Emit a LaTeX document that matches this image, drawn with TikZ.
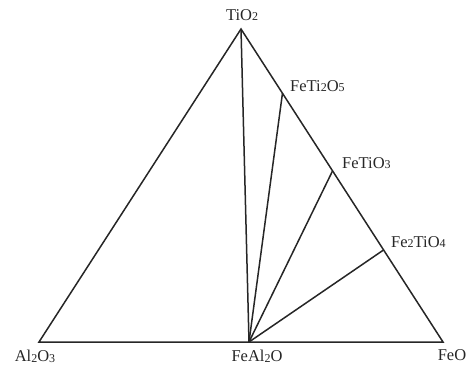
\documentclass[tikz,border=0pt]{standalone}
\usepackage{fontspec}
\setmainfont{Liberation Serif}
\newcommand{\sbs}[1]{\raisebox{-0.8pt}{\fontsize{12}{12}\selectfont #1}}
\begin{document}
\begin{tikzpicture}[x=1pt,y=-1pt,
  edge/.style={line width=1.5pt,black!85},
  lab/.style={font=\fontsize{16.5}{18}\selectfont,text=black!85,inner sep=0pt}]
\useasboundingbox (0,0) rectangle (468,367);
\coordinate (ti) at (241,29);
\coordinate (al) at (39,342);
\coordinate (fe) at (443,342);
\coordinate (fa) at (249,342);
\coordinate (p1) at (282.5,93);
\coordinate (p2) at (332.5,171);
\coordinate (p3) at (383.5,250);
\draw[edge,line join=miter] (ti) -- (al) -- (fe) -- cycle;
\draw[edge] (fa) -- (ti);
\draw[edge] (fa) -- (p1);
\draw[edge] (fa) -- (p2);
\draw[edge] (fa) -- (p3);
\node[lab] (lti) at (242,15) {TiO\sbs{2}};
\node[lab,anchor=west] (lp1) at (290,86) {FeTi\sbs{2}O\sbs{5}};
\node[lab,anchor=west] (lp2) at (342,163) {FeTiO\sbs{3}};
\node[lab,anchor=west] (lp3) at (391,242) {Fe\sbs{2}TiO\sbs{4}};
\node[lab] (lal) at (35,356) {Al\sbs{2}O\sbs{3}};
\node[lab] (lfa) at (257,356) {FeAl\sbs{2}O};
\node[lab] (lfe) at (452,355) {FeO};
\end{tikzpicture}
\end{document}
